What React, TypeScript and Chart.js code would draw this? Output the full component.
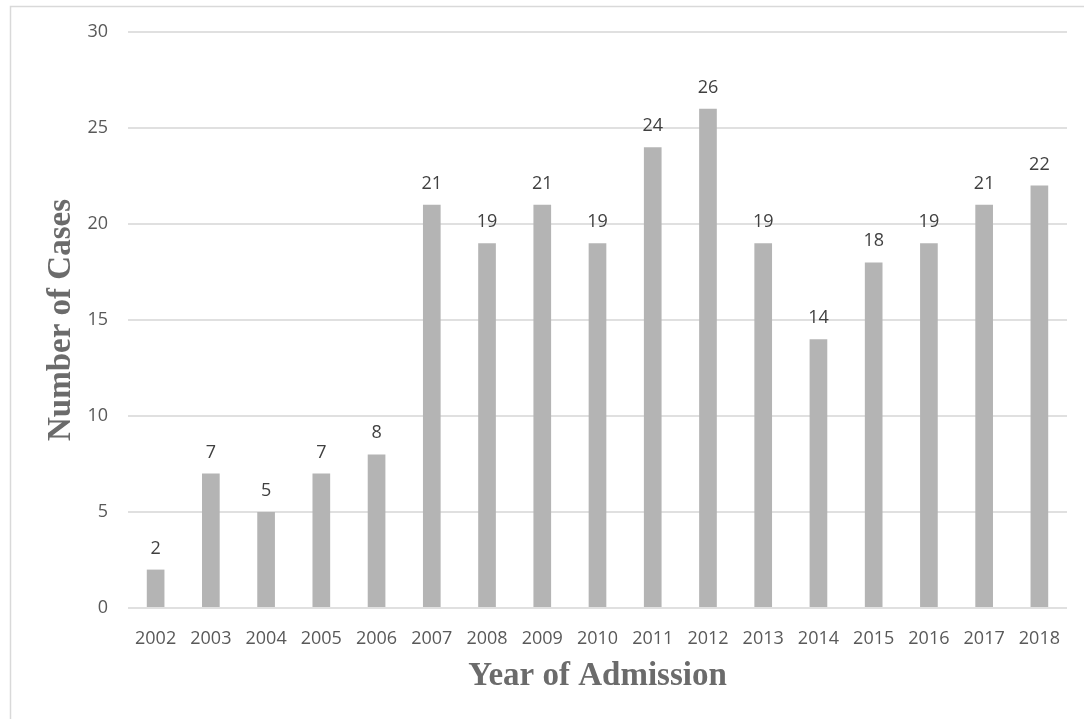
import React, { useEffect, useRef } from "react";
import { Chart, registerables } from "chart.js";

Chart.register(...registerables);

const years = ["2002","2003","2004","2005","2006","2007","2008","2009","2010","2011","2012","2013","2014","2015","2016","2017","2018"];
const cases = [2, 7, 5, 7, 8, 21, 19, 21, 19, 24, 26, 19, 14, 18, 19, 21, 22];
const yMin = 0;
const yMax = 30;
const yStep = 5;
const xTitle = "Year of Admission";
const yTitle = "Number of Cases";

const framePlugin = {
  id: "frame",
  beforeDraw(chart: any) {
    const ctx = chart.ctx;
    ctx.save();
    ctx.strokeStyle = "#d9d9d9";
    ctx.lineWidth = 1.5;
    ctx.strokeRect(10.5, 6.5, 3000, 3000);
    ctx.restore();
  },
};

const labelPlugin = {
  id: "barLabels",
  afterDatasetsDraw(chart: any) {
    const ctx = chart.ctx;
    const meta = chart.getDatasetMeta(0);
    ctx.save();
    ctx.font = "18px 'Open Sans'";
    ctx.fillStyle = "#404040";
    ctx.textAlign = "center";
    ctx.textBaseline = "alphabetic";
    meta.data.forEach((bar: any, i: number) => {
      ctx.fillText(String(chart.data.datasets[0].data[i]), bar.x, bar.y - 16);
    });
    ctx.restore();
  },
};

export default function App() {
  const ref = useRef<HTMLCanvasElement>(null);
  useEffect(() => {
    if (!ref.current) return;
    const chart = new Chart(ref.current, {
      type: "bar",
      data: {
        labels: years,
        datasets: [
          {
            data: cases,
            backgroundColor: "#b4b4b4",
            categoryPercentage: 1,
            barPercentage: 0.32,
          },
        ],
      },
      options: {
        animation: false,
        responsive: false,
        layout: { padding: { left: 0, right: 17, top: 32, bottom: 0 } },
        plugins: { legend: { display: false }, tooltip: { enabled: false } },
        scales: {
          x: {
            grid: { display: false },
            border: { display: false },
            ticks: { color: "#595959", font: { family: "'Open Sans'", size: 18 }, padding: 12, maxRotation: 0, autoSkip: false },
            title: {
              display: true,
              text: xTitle,
              color: "#6b6b6b",
              font: { family: "'Liberation Serif'", size: 33, weight: "bold" },
              padding: { top: 0, bottom: 23 },
            },
            afterFit(scale: any) {
              scale.height = 111;
            },
          },
          y: {
            min: yMin,
            max: yMax,
            ticks: { stepSize: yStep, color: "#595959", font: { family: "'Open Sans'", size: 18 }, padding: 20 },
            grid: { color: "#e0e0e0", lineWidth: 2, drawTicks: false },
            border: { display: false },
            title: {
              display: true,
              text: yTitle,
              color: "#6b6b6b",
              font: { family: "'Liberation Serif'", size: 33, weight: "bold" },
              padding: { top: 42, bottom: 0 },
            },
            afterFit(scale: any) {
              scale.width = 128;
            },
          },
        },
      },
      plugins: [framePlugin, labelPlugin],
    });
    return () => chart.destroy();
  }, []);
  return (
    <div style={{ position: "fixed", left: 0, top: 0, width: 1084, height: 719, background: "#fff" }}>
      <canvas ref={ref} width={1084} height={719} style={{ display: "block" }} />
    </div>
  );
}
